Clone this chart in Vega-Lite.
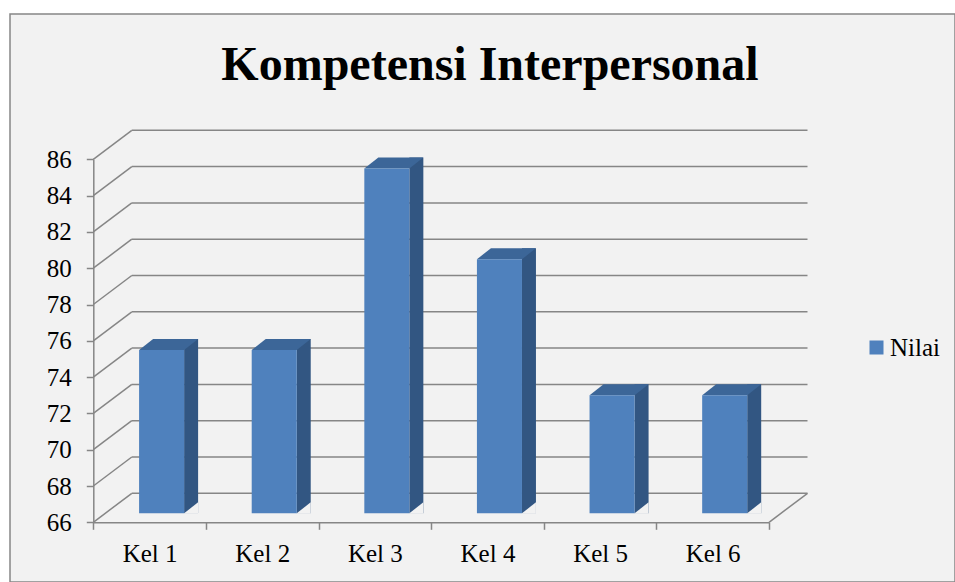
{
  "$schema": "https://vega.github.io/schema/vega-lite/v6.json",
  "width": 945,
  "height": 568,
  "autosize": {"type": "none"},
  "padding": {"left": 10, "top": 14, "right": 0, "bottom": 0},
  "background": "white",
  "config": {
    "view": {"fill": "#f2f2f2", "stroke": "#868686", "strokeWidth": 1.5}
  },
  "title": {
    "text": "Kompetensi Interpersonal",
    "font": "Liberation Serif",
    "fontSize": 48,
    "fontWeight": "bold",
    "color": "black",
    "anchor": "middle",
    "frame": "group",
    "baseline": "alphabetic",
    "offset": 0,
    "dx": 7.5,
    "dy": 114
  },
  "datasets": {
    "nilai": [
      {"kelompok": "Kel 1", "nilai": 75},
      {"kelompok": "Kel 2", "nilai": 75},
      {"kelompok": "Kel 3", "nilai": 85},
      {"kelompok": "Kel 4", "nilai": 80},
      {"kelompok": "Kel 5", "nilai": 72.5},
      {"kelompok": "Kel 6", "nilai": 72.5}
    ],
    "grid": [
      {"v": 66}, {"v": 68}, {"v": 70}, {"v": 72}, {"v": 74}, {"v": 76},
      {"v": 78}, {"v": 80}, {"v": 82}, {"v": 84}, {"v": 86}
    ],
    "floor": [{"v": 66}]
  },
  "resolve": {"scale": {"x": "independent"}},
  "layer": [
    {
      "data": {"name": "grid"},
      "mark": {"type": "rule", "color": "#868686", "strokeWidth": 1.5, "xOffset": 38.5, "x2Offset": 38.5, "yOffset": -29},
      "encoding": {
        "x": {"datum": 0, "type": "quantitative", "scale": {"domain": [0, 1], "range": [83.3, 759]}, "axis": null},
        "x2": {"datum": 1},
        "y": {
          "field": "v", "type": "quantitative",
          "scale": {"domain": [66, 86], "range": [508.3, 145.3], "nice": false, "zero": false},
          "axis": {
            "values": [66, 68, 70, 72, 74, 76, 78, 80, 82, 84, 86],
            "title": null, "offset": -83.3, "grid": false,
            "domain": true, "domainColor": "#868686", "domainWidth": 1.5,
            "ticks": true, "tickColor": "#868686", "tickWidth": 1.5, "tickSize": 7,
            "labelFont": "Liberation Serif", "labelFontSize": 25, "labelColor": "black", "labelPadding": 15
          }
        }
      }
    },
    {
      "data": {"name": "grid"},
      "mark": {"type": "rule", "color": "#868686", "strokeWidth": 1.5, "x2Offset": 38.5, "y2Offset": -29},
      "encoding": {
        "x": {"datum": 0, "type": "quantitative", "scale": {"domain": [0, 1], "range": [83.3, 759]}, "axis": null},
        "x2": {"datum": 0},
        "y": {"field": "v", "type": "quantitative"},
        "y2": {"field": "v"}
      }
    },
    {
      "data": {"name": "floor"},
      "mark": {"type": "rule", "color": "#868686", "strokeWidth": 1.5, "x2Offset": 38.5, "y2Offset": -29},
      "encoding": {
        "x": {"datum": 1, "type": "quantitative", "scale": {"domain": [0, 1], "range": [83.3, 759]}, "axis": null},
        "x2": {"datum": 1},
        "y": {"field": "v", "type": "quantitative"},
        "y2": {"field": "v"}
      }
    },
    {
      "data": {"name": "nilai"},
      "mark": {"type": "bar", "width": 14, "xOffset": 41.5, "yOffset": -20, "y2Offset": -9, "color": "#325682"},
      "encoding": {
        "x": {"field": "kelompok", "type": "nominal", "sort": null, "scale": {"type": "band", "range": [83.3, 759], "paddingInner": 0, "paddingOuter": 0}, "axis": null},
        "y": {"field": "nilai", "type": "quantitative"},
        "y2": {"datum": 66}
      }
    },
    {
      "data": {"name": "nilai"},
      "mark": {"type": "point", "shape": "M34.5,-9L48.5,-20L48.5,-8.5L34.5,-8.5Z", "size": 4, "filled": true, "color": "#f2f2f2", "opacity": 1, "strokeWidth": 0},
      "encoding": {
        "x": {"field": "kelompok", "type": "nominal", "sort": null, "scale": {"type": "band", "range": [83.3, 759], "paddingInner": 0, "paddingOuter": 0}, "axis": null},
        "y": {"datum": 66, "type": "quantitative"}
      }
    },
    {
      "data": {"name": "nilai"},
      "mark": {"type": "point", "shape": "M-10.5,-9L34.5,-9L48.5,-20L3.5,-20Z", "size": 4, "filled": true, "color": "#3c6698", "opacity": 1, "strokeWidth": 0},
      "encoding": {
        "x": {"field": "kelompok", "type": "nominal", "sort": null, "scale": {"type": "band", "range": [83.3, 759], "paddingInner": 0, "paddingOuter": 0}, "axis": null},
        "y": {"field": "nilai", "type": "quantitative"}
      }
    },
    {
      "data": {"name": "nilai"},
      "mark": {"type": "bar", "width": {"band": 0.4}, "xOffset": 12, "yOffset": -9, "y2Offset": -9, "opacity": 1},
      "encoding": {
        "x": {
          "field": "kelompok", "type": "nominal", "sort": null,
          "scale": {"type": "band", "range": [83.3, 759], "paddingInner": 0, "paddingOuter": 0},
          "axis": {
            "title": null, "offset": -59.7, "tickBand": "extent",
            "domain": true, "domainColor": "#868686", "domainWidth": 1.5,
            "ticks": true, "tickColor": "#868686", "tickWidth": 1.5, "tickSize": 7,
            "labelFont": "Liberation Serif", "labelFontSize": 25, "labelColor": "black",
            "labelAngle": 0, "labelBaseline": "alphabetic", "labelPadding": 32, "labelDx": -2, "grid": false
          }
        },
        "y": {"field": "nilai", "type": "quantitative"},
        "y2": {"datum": 66},
        "color": {
          "datum": "Nilai", "type": "nominal",
          "scale": {"range": ["#4f81bd"]},
          "legend": {
            "orient": "none", "legendX": 854, "legendY": 321, "title": null,
            "symbolType": "square", "symbolSize": 196, "symbolStrokeWidth": 0, "symbolOpacity": 1,
            "labelFont": "Liberation Serif", "labelFontSize": 25, "labelColor": "black",
            "labelOffset": 1, "padding": 0
          }
        }
      }
    }
  ]
}
